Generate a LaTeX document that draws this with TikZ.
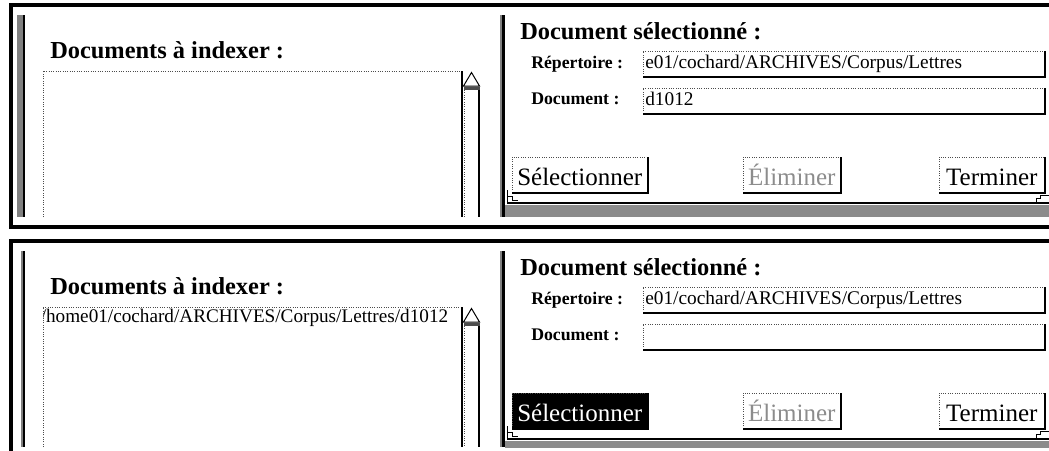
\documentclass[tikz,border=0pt]{standalone}
\usepackage{fontspec}
\setmainfont{Liberation Serif}

\tikzset{
  frameline/.style={line width=3pt},
  dotedge/.style={densely dotted, black!70, line width=0.75pt},
  shadowedge/.style={line width=1.5pt},
  heading/.style={anchor=base west, inner sep=0pt, font=\fontsize{18.3}{20}\selectfont\bfseries},
  fieldlabel/.style={anchor=base west, inner sep=0pt, font=\fontsize{13.3}{15}\selectfont\bfseries},
  entrytext/.style={anchor=base west, inner sep=0pt, font=\fontsize{14.4}{16}\selectfont},
  field/.style={anchor=north west, inner xsep=1.5pt, inner ysep=0pt, minimum height=18.75pt,
    text width=297.75pt, text height=10.5pt, text depth=3pt, font=\fontsize{14.5}{16}\selectfont},
  button/.style={anchor=north west, inner sep=0pt, minimum height=26.25pt,
    text height=16.5pt, text depth=1pt, font=\fontsize{18.75}{20}\selectfont},
  released/.style={fill=white},
  pressed/.style={fill=black, text=white},
  greyed/.style={text=black!45},
}

%One dialog window
%#1 name suffix, #2 y offset, #3 list entry, #4 document entry
%#5 style of the select button, #6 left edge of the side bar, #7 bottom of the visible part
\newcommand{\dialogpanel}[7]{%
  \begin{scope}[shift={(0,#2)}]
    %Window frame
    \draw[frameline] (11,229) -- (11,5) -- (1049,5);
    \draw[frameline] (9.5,227) -- (1049,227);
    \begin{scope}
      \clip (13,7) rectangle (1049,#7);

      %Left side bar
      \fill[black!50] (#6,15) rectangle (23,#7);
      \fill (23,15) rectangle (24.5,#7);

      %List of documents to index
      \node[heading] (listtitle#1) at (50,58) {Documents à indexer :};
      \begin{scope}
        \clip (43,71) rectangle (461,#7);
        \node[entrytext] (entry#1) at (40.5,86) {#3};
      \end{scope}
      \draw[dotedge] (43,#7) -- (43,71) -- (461,71);
      \draw[shadowedge] (462,71) -- (462,#7);

      %Scroll bar
      \draw[line width=0.75pt, fill=white] (463.5,86) -- (471.5,72.5) -- (479.5,86) -- cycle;
      \draw[line width=2.25pt, black!70] (464,88.5) -- (480,88.5);
      \draw[dotedge] (464.5,90) -- (464.5,#7);
      \draw[shadowedge] (479,90) -- (479,#7);

      %Right side bar
      \fill[black!50] (500,15) rectangle (502,#7);
      \fill (502,15) rectangle (505,#7);

      %Selected document
      \node[heading] (seltitle#1) at (520,39) {Document sélectionné :};
      \node[fieldlabel] (replabel#1) at (531,68) {Répertoire :};
      \node[fieldlabel] (doclabel#1) at (531,104) {Document :};
      \node[field] (rep#1) at (643,51) {e01/cochard/ARCHIVES/Corpus/Lettres};
      \node[field] (doc#1) at (643,88) {#4};
      \foreach \f in {rep#1,doc#1} {
        \draw[dotedge] (\f.south west) -- (\f.north west) -- (\f.north east);
        \draw[shadowedge] (\f.north east) -- (\f.south east) -- (\f.south west);
      }

      %Buttons
      \node[button, #5, minimum width=101.25pt] (select#1) at (512,157) {Sélectionner};
      \node[button, greyed, minimum width=72.75pt] (remove#1) at (743,157) {Éliminer};
      \node[button, minimum width=78.75pt] (finish#1) at (939,157) {Terminer};
      \foreach \b in {select#1,remove#1,finish#1} {
        \draw[dotedge] (\b.south west) -- (\b.north west) -- (\b.north east);
        \draw[shadowedge] (\b.north east) -- (\b.south east) -- (\b.south west);
      }

      %Bottom edge of the button row
      \draw[line width=0.75pt] (507,190) -- (507,202.5);
      \draw[line width=0.75pt] (507,196) -- (512,196) -- (512,200) -- (518,200);
      \draw[shadowedge] (507,202.5) -- (1049,202.5);
      \draw[line width=0.75pt] (1036,202.5) -- (1036,198) -- (1040,198) -- (1040,195) -- (1049,195);
      \fill[black!45] (505,205) rectangle (1049,217);
    \end{scope}
  \end{scope}%
}

\begin{document}
\begin{tikzpicture}[x=0.75pt, y=-0.75pt]
	%Picture size 1049 x 450 px
	\useasboundingbox (0,0) rectangle (1049,450);
	\clip (0,0) rectangle (1049,450);

	%Before selection
	\dialogpanel{a}{0}{}{d1012}{released}{17}{217}

	%After selection
	\dialogpanel{b}{236}{/home01/cochard/ARCHIVES/Corpus/Lettres/d1012}{}{pressed}{21}{211}
\end{tikzpicture}
\end{document}
